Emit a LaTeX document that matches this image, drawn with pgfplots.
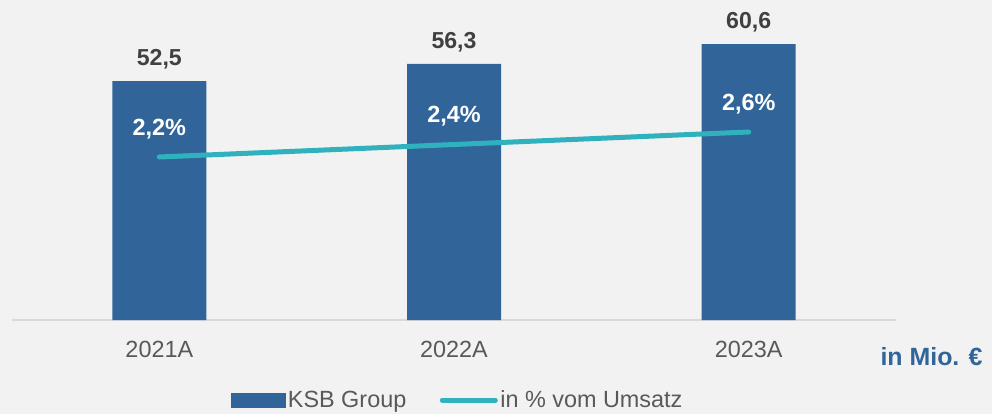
\documentclass[border=0pt]{standalone}
\usepackage{fontspec}
\setmainfont{Liberation Sans}
\usepackage{pgfplots}
\pgfplotsset{compat=1.18}
\definecolor{bg}{HTML}{F2F2F2}
\definecolor{barblue}{HTML}{31659A}
\definecolor{teal}{HTML}{2FB2BE}
\definecolor{valgray}{HTML}{404040}
\definecolor{txtgray}{HTML}{595959}
\definecolor{axgray}{HTML}{D9D9D9}
\begin{document}
\begin{tikzpicture}[x=1bp,y=1bp]
\fill[bg] (0,0) rectangle (992,414);
\begin{axis}[
  at={(12bp,94bp)}, anchor=south west,
  scale only axis, width=884bp, height=300bp,
  xmin=-0.5, xmax=2.5, ymin=0, ymax=65.93,
  axis x line*=bottom, hide y axis,
  x axis line style={draw=axgray, line width=1.3bp, -},
  xtick={0,1,2}, xticklabels={2021A,2022A,2023A},
  major tick length=0pt,
  xticklabel style={font=\fontsize{23.5}{28}\selectfont, text=txtgray, yshift=-18bp},
  ybar, bar width=94bp,
  nodes near coords={\pgfmathprintnumber[fixed,fixed zerofill,precision=1,use comma,assume math mode=true]{\pgfplotspointmeta}},
  nodes near coords style={font=\bfseries\fontsize{23.2}{27}\selectfont, text=valgray, anchor=base, yshift=15.5bp},
  clip=false,
]
\addplot[fill=barblue, draw=none] coordinates {(0,52.5) (1,56.3) (2,60.6)};
\end{axis}
\begin{axis}[
  at={(12bp,94bp)}, anchor=south west,
  scale only axis, width=884bp, height=300bp,
  xmin=-0.5, xmax=2.5, ymin=-0.408, ymax=4.392,
  hide x axis, hide y axis,
  clip=false,
  legend style={at={(0.5045,-0.2667)}, anchor=center, draw=none, fill=none,
    font=\fontsize{23.5}{28}\selectfont, text=txtgray,
    /tikz/every even column/.append style={column sep=31bp},
    nodes={inner sep=2.5bp}},
  legend columns=2,
]
\addlegendimage{legend image code/.code={\fill[barblue] (0bp,-7bp) rectangle (54bp,7bp);}}
\addlegendentry{KSB Group}
\addplot[teal, line width=5bp, line cap=round,
  nodes near coords={\pgfmathprintnumber[fixed,fixed zerofill,precision=1,use comma,assume math mode=true]{\pgfplotspointmeta}\%},
  nodes near coords style={font=\bfseries\fontsize{23.5}{27}\selectfont, text=white, anchor=base, yshift=21.7bp},
  legend image code/.code={\draw[teal, line width=5bp, line cap=round] (2bp,0bp) -- (55bp,0bp);}
] coordinates {(0,2.2) (1,2.4) (2,2.6)};
\addlegendentry{in \% vom Umsatz}
\end{axis}
\node[font=\bfseries\fontsize{25}{30}\selectfont, text=barblue, anchor=east] at (986,57) {in Mio. €};
\pgfresetboundingbox
\useasboundingbox (0,0) rectangle (992,414);
\end{tikzpicture}
\end{document}
